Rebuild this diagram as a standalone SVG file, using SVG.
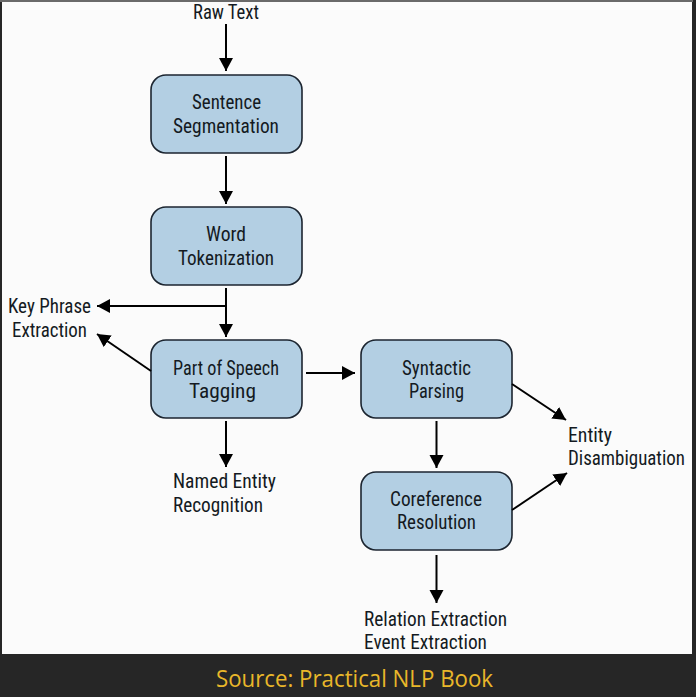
<svg xmlns="http://www.w3.org/2000/svg" width="696" height="697" viewBox="0 0 696 697">
<style>
.bg{fill:#262626}
.paper{fill:#fbfbfb}
.box{fill:#b3cfe3;stroke:#1c2530;stroke-width:1.6}
.t{font-family:"Liberation Sans Narrow","Roboto Condensed","Liberation Sans",sans-serif;font-size:20.5px;fill:#141a22}
.edge{stroke:#000;stroke-width:2;fill:none;marker-end:url(#ah)}
.src{font-family:"Open Sans","Noto Sans","Liberation Sans",sans-serif;font-size:23px;font-weight:500;fill:#e9b72a}
</style>
<defs>
<marker id="ah" markerUnits="userSpaceOnUse" markerWidth="15" markerHeight="15" refX="13" refY="7" orient="auto">
<path d="M0,0 L13,7 L0,14 z" fill="#000"/>
</marker>
</defs>
<rect class="bg" x="0" y="0" width="696" height="697"/>
<rect x="0" y="0" width="693" height="2" fill="#6a6a6a"/>
<rect class="paper" x="2" y="2" width="690" height="652"/>

<g id="raw-text"><text class="t" x="193" y="19" textLength="66" lengthAdjust="spacingAndGlyphs">Raw Text</text></g>

<g id="sentence-segmentation">
<rect class="box" x="151" y="75" width="151" height="78" rx="15"/>
<text class="t" x="192" y="109" textLength="69" lengthAdjust="spacingAndGlyphs">Sentence</text>
<text class="t" x="173" y="133" textLength="106" lengthAdjust="spacingAndGlyphs">Segmentation</text>
</g>

<g id="word-tokenization">
<rect class="box" x="151" y="207" width="151" height="78" rx="15"/>
<text class="t" x="206" y="241" textLength="40" lengthAdjust="spacingAndGlyphs">Word</text>
<text class="t" x="178" y="265" textLength="96" lengthAdjust="spacingAndGlyphs">Tokenization</text>
</g>

<g id="pos-tagging">
<rect class="box" x="151" y="340" width="151" height="78" rx="15"/>
<text class="t" x="173" y="375" textLength="106" lengthAdjust="spacingAndGlyphs">Part of Speech</text>
<text class="t" x="189" y="398" textLength="67" lengthAdjust="spacingAndGlyphs">Tagging</text>
</g>

<g id="key-phrase-extraction">
<text class="t" x="8" y="313" textLength="83" lengthAdjust="spacingAndGlyphs">Key Phrase</text>
<text class="t" x="12" y="337" textLength="75" lengthAdjust="spacingAndGlyphs">Extraction</text>
</g>

<g id="named-entity-recognition">
<text class="t" x="173" y="488" textLength="103" lengthAdjust="spacingAndGlyphs">Named Entity</text>
<text class="t" x="173" y="512" textLength="90" lengthAdjust="spacingAndGlyphs">Recognition</text>
</g>

<g id="syntactic-parsing">
<rect class="box" x="361" y="340" width="151" height="78" rx="15"/>
<text class="t" x="402" y="375" textLength="69" lengthAdjust="spacingAndGlyphs">Syntactic</text>
<text class="t" x="409" y="398" textLength="55" lengthAdjust="spacingAndGlyphs">Parsing</text>
</g>

<g id="coreference-resolution">
<rect class="box" x="361" y="472" width="151" height="78" rx="15"/>
<text class="t" x="390" y="506" textLength="92" lengthAdjust="spacingAndGlyphs">Coreference</text>
<text class="t" x="397" y="529" textLength="79" lengthAdjust="spacingAndGlyphs">Resolution</text>
</g>

<g id="entity-disambiguation">
<text class="t" x="568" y="442" textLength="44" lengthAdjust="spacingAndGlyphs">Entity</text>
<text class="t" x="568" y="465" textLength="117" lengthAdjust="spacingAndGlyphs">Disambiguation</text>
</g>

<g id="relation-event-extraction">
<text class="t" x="364" y="626" textLength="143" lengthAdjust="spacingAndGlyphs">Relation Extraction</text>
<text class="t" x="364" y="649" textLength="123" lengthAdjust="spacingAndGlyphs">Event Extraction</text>
</g>

<g id="connectors">
<path class="edge" d="M226,24 V71"/>
<path class="edge" d="M226,156 V204"/>
<path class="edge" d="M226,288 V337"/>
<path class="edge" d="M226,306 H97"/>
<path class="edge" d="M151,371 L97,334"/>
<path class="edge" d="M226,421 V467"/>
<path class="edge" d="M306,373 H355"/>
<path class="edge" d="M436.5,421 V468"/>
<path class="edge" d="M512,384 L566,420"/>
<path class="edge" d="M512,510 L567,473"/>
<path class="edge" d="M436.5,555 V603"/>
</g>

<text class="src" x="216" y="687" textLength="277" lengthAdjust="spacingAndGlyphs">Source: Practical NLP Book</text>
</svg>
